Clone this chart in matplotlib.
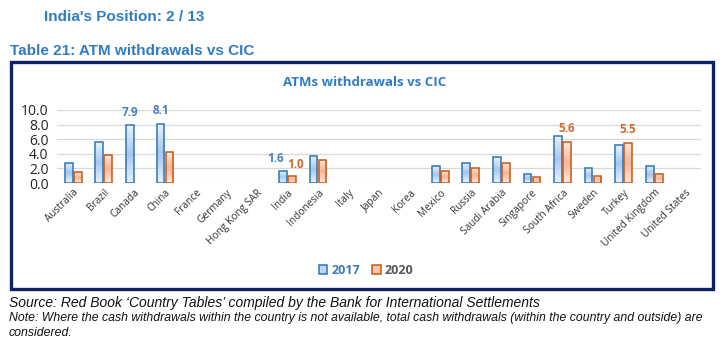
import matplotlib.pyplot as plt
import matplotlib.patches as mpatches
from matplotlib.colors import LinearSegmentedColormap
import numpy as np

countries = ['Australia', 'Brazil', 'Canada', 'China', 'France', 'Germany',
             'Hong Kong SAR', 'India', 'Indonesia', 'Italy', 'Japan', 'Korea',
             'Mexico', 'Russia', 'Saudi Arabia', 'Singapore', 'South Africa',
             'Sweden', 'Turkey', 'United Kingdom', 'United States']
# nan = no data for that country
v2017 = [2.8, 5.6, 7.9, 8.1, np.nan, np.nan, np.nan, 1.6, 3.7, np.nan, np.nan, np.nan,
         2.3, 2.8, 3.5, 1.3, 6.5, 2.0, 5.2, 2.4, np.nan]
v2020 = [1.5, 3.9, np.nan, 4.2, np.nan, np.nan, np.nan, 1.0, 3.2, np.nan, np.nan, np.nan,
         1.7, 2.1, 2.7, 0.8, 5.6, 1.0, 5.5, 1.3, np.nan]
labelled_2017 = ['Canada', 'China', 'India']
labelled_2020 = ['India', 'South Africa', 'Turkey']
yticks = [0, 2, 4, 6, 8, 10]

blue_edge = '#2e75b6'
orange_edge = '#c55a11'
title_blue = '#2f7cc4'
blue_grad = LinearSegmentedColormap.from_list('bg', ['#eaf2fc', '#a6c6ee', '#eaf2fc'])
orange_grad = LinearSegmentedColormap.from_list('og', ['#fde8de', '#f6b497', '#fde8de'])

fig = plt.figure(figsize=(7.25, 3.48), dpi=100)

fig.text(0.061, 0.952, "India's Position: 2 / 13", fontsize=11, fontweight='bold',
         color=title_blue, family='Liberation Sans', va='center')
fig.text(0.014, 0.853, 'Table 21: ATM withdrawals vs CIC', fontsize=11, fontweight='bold',
         color=title_blue, family='Liberation Sans', va='center')

# navy frame around the chart
fig.patches.append(mpatches.Rectangle((0.0155, 0.17), 0.968, 0.653, transform=fig.transFigure,
                                      fill=False, edgecolor='#0c2366', linewidth=2.4))

ax = fig.add_axes([0.0786, 0.474, 0.888, 0.21])
x = np.arange(len(countries))
w = 0.25
off = 0.147
b1 = ax.bar(x - off, v2017, w, facecolor='#bcd5f1', edgecolor=blue_edge, linewidth=1.1, label='2017')
b2 = ax.bar(x + off, v2020, w, facecolor='#f9c6b0', edgecolor=orange_edge, linewidth=1.1, label='2020')

# Excel style gradient fill inside every bar
grad = np.linspace(0, 1, 64).reshape(-1, 1)
for bars, cmap in ((b1, blue_grad), (b2, orange_grad)):
    for p in bars:
        h = p.get_height()
        if not np.isfinite(h) or h <= 0:
            continue
        x0 = p.get_x()
        im = ax.imshow(grad, extent=[x0, x0 + p.get_width(), 0, h], origin='lower',
                       aspect='auto', cmap=cmap, zorder=2.1, interpolation='bicubic')
        im.set_clip_path(p)
        p.set_facecolor('none')
        p.set_zorder(2.2)

for i, c in enumerate(countries):
    if c in labelled_2017:
        dx = -0.25 if c == 'India' else 0
        ax.text(x[i] - off + dx, v2017[i] + 1.8, f'{v2017[i]:.1f}', ha='center', va='center',
                color='#4a80c0', fontsize=8.5, fontweight='bold', family='Open Sans')
    if c in labelled_2020:
        dx = 0.12 if c == 'India' else 0
        dy = 1.6 if c == 'India' else 1.8
        ax.text(x[i] + off + dx, v2020[i] + dy, f'{v2020[i]:.1f}', ha='center', va='center',
                color='#d06a30', fontsize=8.5, fontweight='bold', family='Open Sans')

ax.set_xlim(-0.53, len(countries) - 0.48)
ax.set_ylim(0, 10)
ax.set_yticks(yticks)
ax.set_yticklabels([f'{t:.1f}' for t in yticks], fontsize=10, color='#222222', family='Open Sans')
ax.set_xticks(x)
ax.set_xticklabels(countries, rotation=45, ha='right', rotation_mode='anchor',
                   fontsize=7.3, color='#333333', family='Open Sans')
ax.tick_params(length=0, pad=3)
ax.tick_params(axis='y', pad=6)
ax.grid(axis='y', color='#d9d9d9', linewidth=0.9)
ax.set_axisbelow(True)
for s in ax.spines.values():
    s.set_visible(False)

fig.text(0.503, 0.762, 'ATMs withdrawals vs CIC', ha='center', va='center', fontsize=9.5,
         fontweight='bold', color=title_blue, family='Open Sans')

leg = fig.legend(handles=[b1, b2], loc='center', bbox_to_anchor=(0.505, 0.224), ncol=2,
                 frameon=False, handlelength=0.7, handleheight=0.7, handletextpad=0.3,
                 columnspacing=1.0, prop={'family': 'Open Sans', 'weight': 'bold', 'size': 9})
leg.legend_handles[0].set_facecolor('#bcd5f1')
leg.legend_handles[1].set_facecolor('#f9c6b0')
leg.get_texts()[0].set_color('#3f78b8')
leg.get_texts()[1].set_color('#555555')

fig.text(0.012, 0.128, "Source: Red Book \u2018Country Tables\u2019 compiled by the Bank for International Settlements",
         fontsize=10, style='italic', family='Liberation Sans', color='#111111', va='center')
fig.text(0.012, 0.085, 'Note: Where the cash withdrawals within the country is not available, total cash withdrawals (within the country and outside) are',
         fontsize=8.8, style='italic', family='Liberation Sans', color='#111111', va='center')
fig.text(0.012, 0.042, 'considered.', fontsize=8.8, style='italic', family='Liberation Sans',
         color='#111111', va='center')

fig.savefig('out.png', dpi=100)
